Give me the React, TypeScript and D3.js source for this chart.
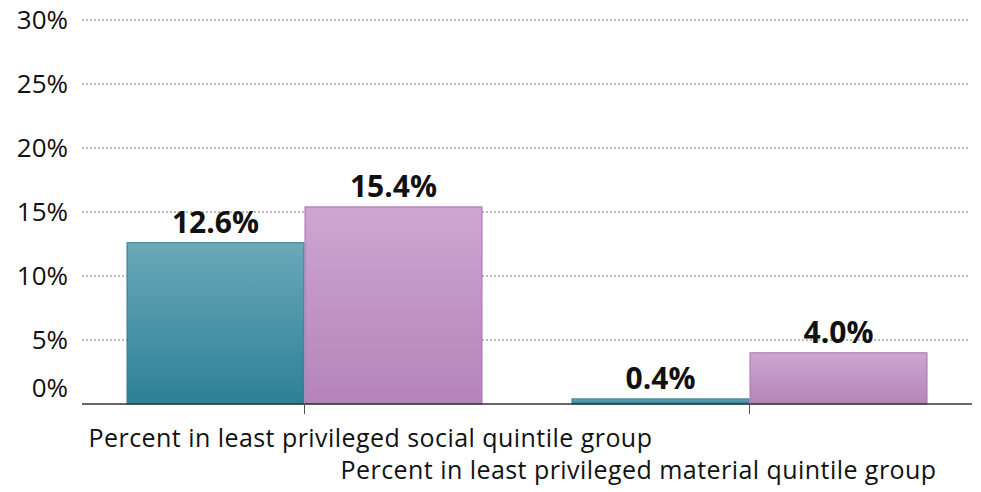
import React from "react";
import * as d3 from "d3";

const categories = [
  "Percent in least privileged social quintile group",
  "Percent in least privileged material quintile group",
];
const seriesNames = ["A", "B"];
const seriesA = [12.6, 0.4];
const seriesB = [15.4, 4.0];
const yTicks = [0, 5, 10, 15, 20, 25, 30];

const W = 981, H = 492;
const M = { left: 82, right: 9, top: 20, bottom: 88 };

export default function App() {
  const x = d3.scaleBand<string>().domain(categories).range([M.left, W - M.right]).paddingInner(0.2).paddingOuter(0.1);
  const x0 = d3.scaleBand<string>().domain(categories).range([M.left, W - M.right]);
  const xs = d3.scaleBand<string>().domain(seriesNames).range([0, x.bandwidth()]);
  const y = d3.scaleLinear().domain([0, 30]).range([H - M.bottom, M.top]);
  const font = "'Open Sans', Lato, sans-serif";
  const series = [
    { name: "A", vals: seriesA, fill: "url(#gA)", stroke: "#2f7e90" },
    { name: "B", vals: seriesB, fill: "url(#gB)", stroke: "#aa70b2" },
  ];
  const labelOffsets = [-216, -409];
  return (
    <svg width={W} height={H} style={{ position: "absolute", left: 0, top: 0 }}>
      <defs>
        <linearGradient id="gA" x1="0" y1="0" x2="0" y2="1">
          <stop offset="0" stopColor="#6aa9b8" />
          <stop offset="1" stopColor="#2d8097" />
        </linearGradient>
        <linearGradient id="gB" x1="0" y1="0" x2="0" y2="1">
          <stop offset="0" stopColor="#cca6d0" />
          <stop offset="1" stopColor="#b484b9" />
        </linearGradient>
      </defs>
      {yTicks.map((t) => (
        <g key={t}>
          {t > 0 && (
            <line x1={M.left} x2={W - M.right - 2} y1={y(t)} y2={y(t)} stroke="#777" strokeDasharray="2,2" strokeWidth={1} />
          )}
          <text x={68} y={y(t) - (t === 0 ? 16 : 0)} dy="0.36em" textAnchor="end" fontFamily={font} fontSize={26} fill="#111">
            {t}%
          </text>
        </g>
      ))}
      {categories.map((c, ci) =>
        series.map((s) => {
          const bx = (x(c) as number) + (xs(s.name) as number);
          const v = s.vals[ci];
          return (
            <g key={c + s.name}>
              <rect x={bx + 0.5} y={y(v)} width={xs.bandwidth() - 1} height={y(0) - y(v)} fill={s.fill} stroke={s.stroke} strokeWidth={1} />
              <text x={bx + xs.bandwidth() / 2} y={y(v) - 10} textAnchor="middle" fontFamily={font} fontWeight={700} fontSize={30} fill="#111">
                {v.toFixed(1)}%
              </text>
            </g>
          );
        })
      )}
      <line x1={M.left} x2={W - M.right} y1={y(0)} y2={y(0)} stroke="#333" strokeWidth={1.5} />
      {categories.map((c, ci) => {
        const cx = (x0(c) as number) + x0.bandwidth() / 2;
        return (
          <g key={c}>
            <line x1={cx} x2={cx} y1={y(0)} y2={y(0) + 10} stroke="#555" strokeWidth={1} />
            <text x={cx + labelOffsets[ci]} y={ci === 0 ? 447 : 479} textAnchor="start" fontFamily={font} fontSize={25} letterSpacing={0.45} fill="#111">
              {c}
            </text>
          </g>
        );
      })}
    </svg>
  );
}
